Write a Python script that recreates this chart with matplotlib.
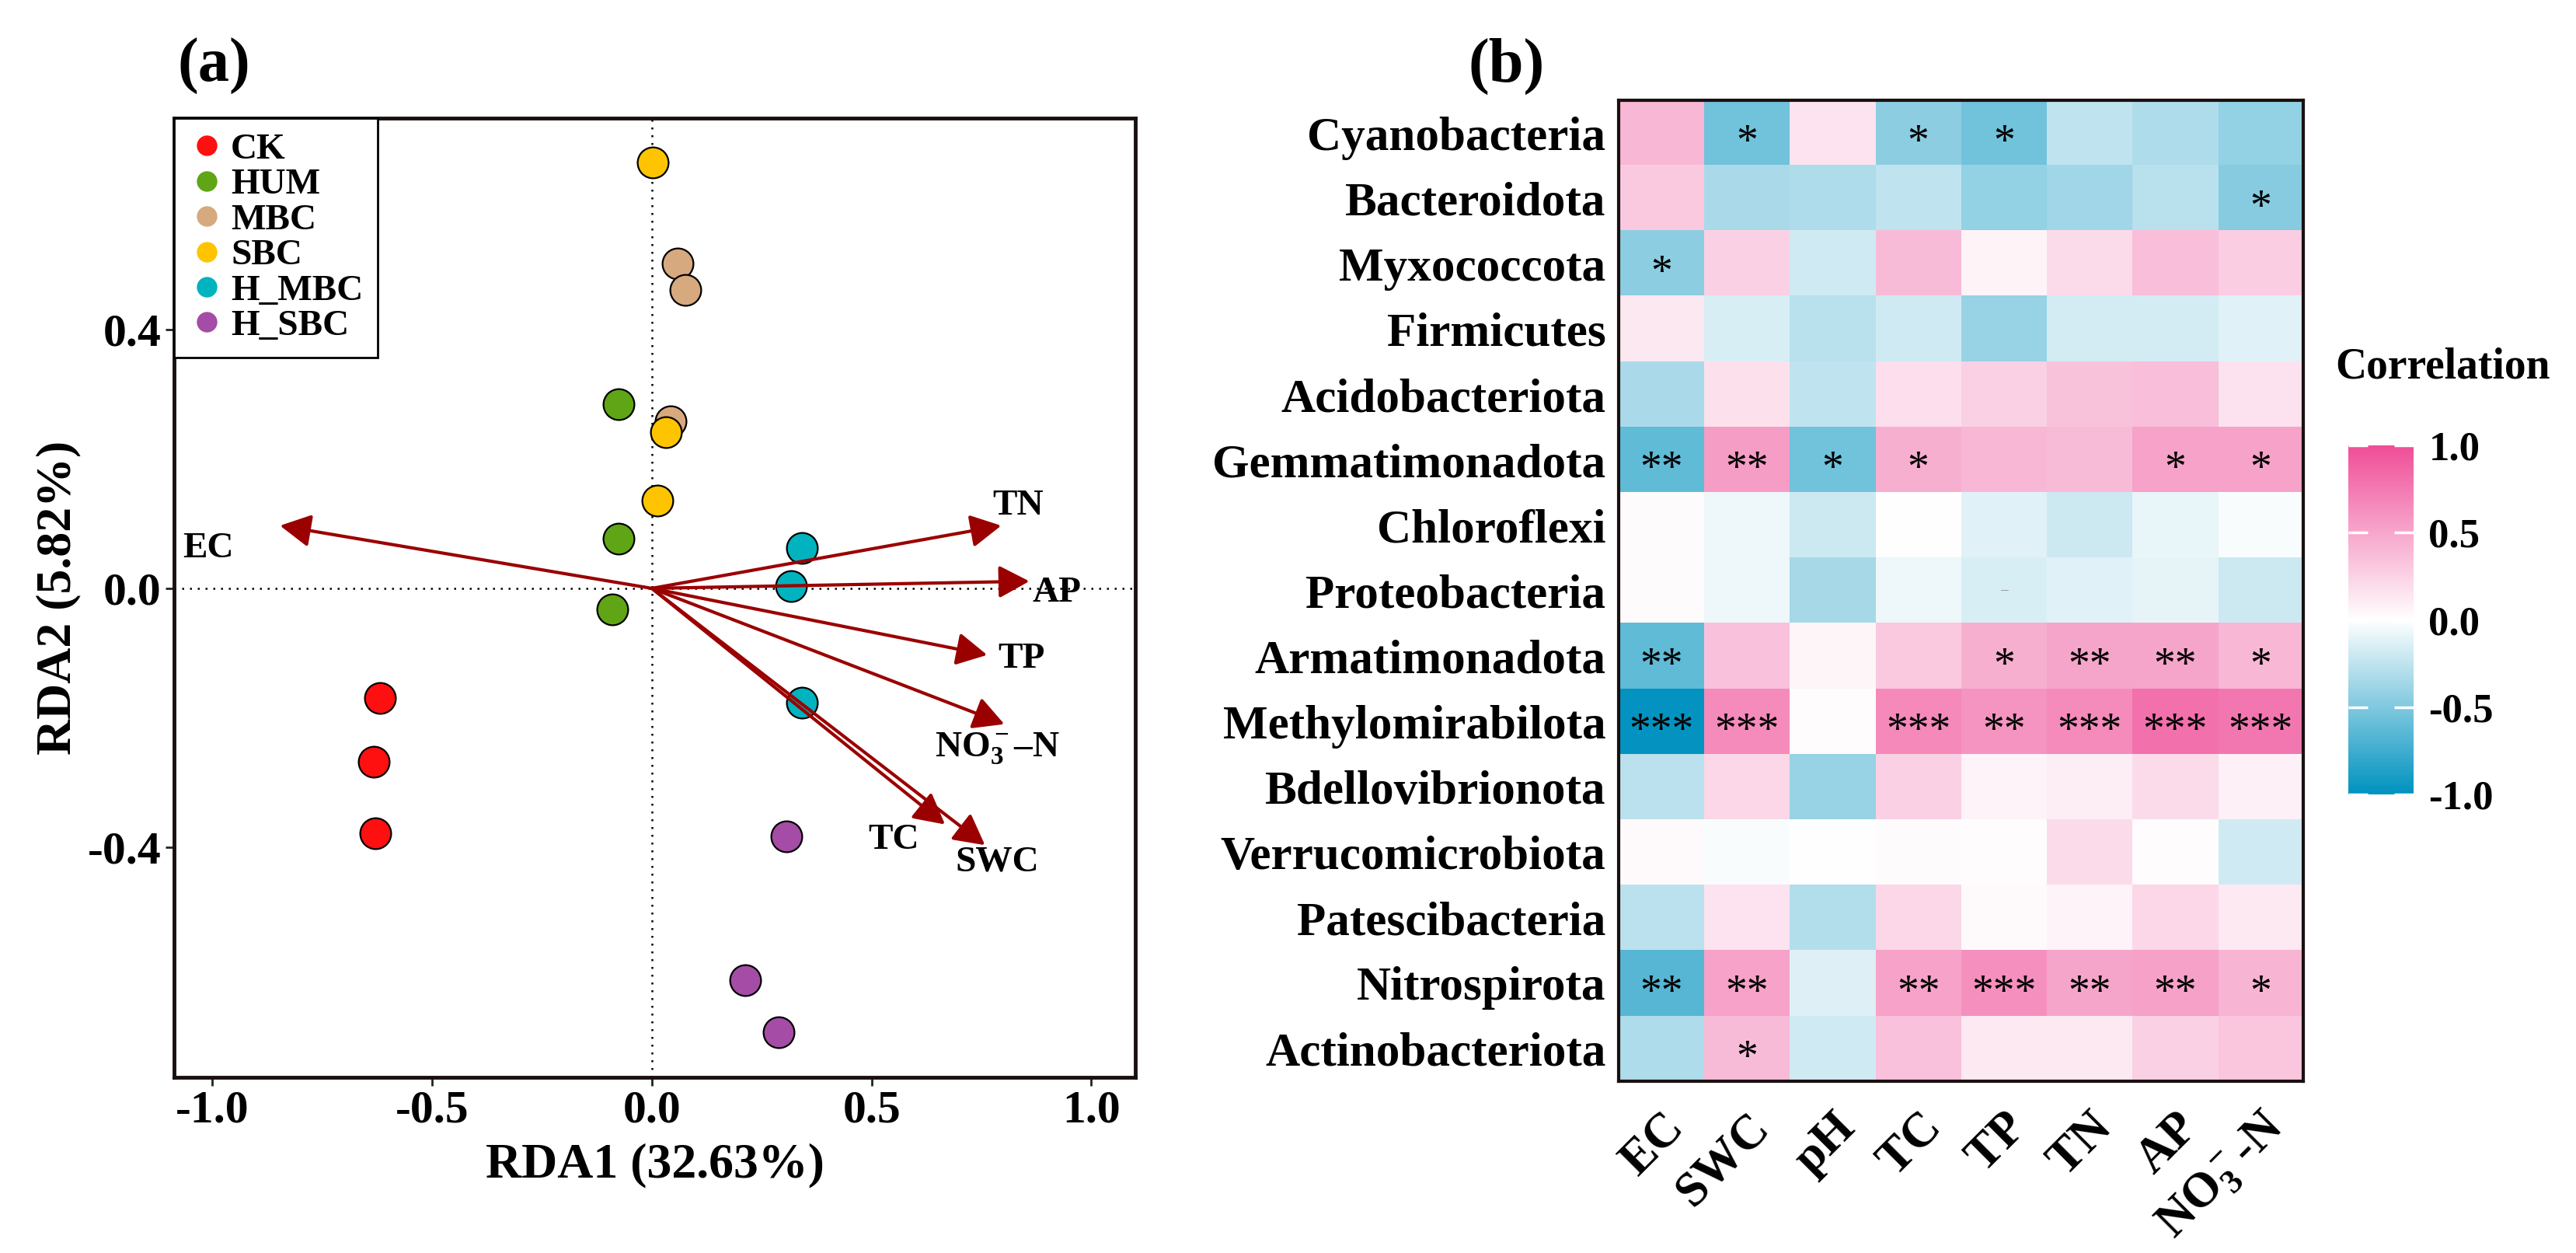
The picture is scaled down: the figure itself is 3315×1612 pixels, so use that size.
import numpy as np
import matplotlib
matplotlib.use('Agg')
import matplotlib.pyplot as plt
from matplotlib.colors import LinearSegmentedColormap
from matplotlib.lines import Line2D

plt.rcParams['font.family'] = ['Liberation Serif', 'DejaVu Serif']
plt.rcParams['font.weight'] = 'bold'
plt.rcParams['axes.labelweight'] = 'bold'
plt.rcParams['mathtext.fontset'] = 'custom'
plt.rcParams['mathtext.rm'] = 'Liberation Serif:bold'
plt.rcParams['mathtext.it'] = 'Liberation Serif:bold:italic'
plt.rcParams['mathtext.bf'] = 'Liberation Serif:bold'

# ---- panel (a): RDA sites ----
groups = ['CK', 'HUM', 'MBC', 'SBC', 'H_MBC', 'H_SBC']
group_colors = ['#FF1010', '#5FA516', '#D6A97E', '#FFC400', '#00B3BE', '#A44CA6']
rda1 = {
    'CK': [-0.618, -0.632, -0.629],
    'HUM': [-0.075, -0.075, -0.090],
    'MBC': [0.058, 0.077, 0.043],
    'SBC': [0.002, 0.032, 0.013],
    'H_MBC': [0.342, 0.317, 0.342],
    'H_SBC': [0.307, 0.213, 0.289],
}
rda2 = {
    'CK': [-0.169, -0.268, -0.379],
    'HUM': [0.285, 0.077, -0.033],
    'MBC': [0.502, 0.461, 0.258],
    'SBC': [0.659, 0.242, 0.136],
    'H_MBC': [0.063, 0.004, -0.177],
    'H_SBC': [-0.383, -0.606, -0.686],
}

# environmental arrows
env_names = ['EC', 'TN', 'AP', 'TP', r'NO$_3^-$–N', 'TC', 'SWC']
env_x = [-0.846, 0.795, 0.859, 0.763, 0.802, 0.667, 0.758]
env_y = [0.097, 0.097, 0.011, -0.103, -0.210, -0.365, -0.397]
label_x = [-1.01, 0.834, 0.922, 0.841, 0.786, 0.551, 0.786]
label_y = [0.061, 0.127, -0.007, -0.110, -0.248, -0.390, -0.424]

# ---- panel (b): correlation heatmap ----
phyla = ['Cyanobacteria', 'Bacteroidota', 'Myxococcota', 'Firmicutes',
         'Acidobacteriota', 'Gemmatimonadota', 'Chloroflexi', 'Proteobacteria',
         'Armatimonadota', 'Methylomirabilota', 'Bdellovibrionota',
         'Verrucomicrobiota', 'Patescibacteria', 'Nitrospirota', 'Actinobacteriota']
factors = ['EC', 'SWC', 'pH', 'TC', 'TP', 'TN', 'AP', r'NO$_3^-$-N']
corr = np.array([
    [0.40, -0.55, 0.15, -0.45, -0.55, -0.25, -0.32, -0.42],
    [0.30, -0.33, -0.32, -0.25, -0.42, -0.37, -0.28, -0.47],
    [-0.45, 0.25, -0.18, 0.38, 0.06, 0.20, 0.36, 0.28],
    [0.13, -0.15, -0.28, -0.18, -0.40, -0.17, -0.17, -0.12],
    [-0.33, 0.17, -0.25, 0.18, 0.25, 0.34, 0.36, 0.16],
    [-0.62, 0.55, -0.55, 0.45, 0.40, 0.38, 0.52, 0.52],
    [0.02, -0.07, -0.20, 0.00, -0.12, -0.20, -0.09, -0.03],
    [0.02, -0.07, -0.35, -0.07, -0.15, -0.12, -0.10, -0.20],
    [-0.62, 0.35, 0.05, 0.30, 0.45, 0.50, 0.50, 0.40],
    [-0.98, 0.65, 0.01, 0.66, 0.60, 0.65, 0.80, 0.76],
    [-0.27, 0.22, -0.40, 0.25, 0.07, 0.10, 0.20, 0.08],
    [0.03, -0.03, 0.00, 0.02, 0.01, 0.20, 0.01, -0.18],
    [-0.27, 0.15, -0.30, 0.22, 0.03, 0.07, 0.22, 0.12],
    [-0.66, 0.52, -0.13, 0.52, 0.62, 0.50, 0.53, 0.42],
    [-0.32, 0.38, -0.18, 0.35, 0.12, 0.12, 0.25, 0.32],
])
stars = [
    ['', '*', '', '*', '*', '', '', ''],
    ['', '', '', '', '', '', '', '*'],
    ['*', '', '', '', '', '', '', ''],
    ['', '', '', '', '', '', '', ''],
    ['', '', '', '', '', '', '', ''],
    ['**', '**', '*', '*', '', '', '*', '*'],
    ['', '', '', '', '', '', '', ''],
    ['', '', '', '', '', '', '', ''],
    ['**', '', '', '', '*', '**', '**', '*'],
    ['***', '***', '', '***', '**', '***', '***', '***'],
    ['', '', '', '', '', '', '', ''],
    ['', '', '', '', '', '', '', ''],
    ['', '', '', '', '', '', '', ''],
    ['**', '**', '', '**', '***', '**', '**', '*'],
    ['', '*', '', '', '', '', '', ''],
]

fig = plt.figure(figsize=(33.16, 16.12), dpi=100)

# ================= panel (a) =================
ax = fig.add_axes([0.06755, 0.1402, 0.37304, 0.76551])
ax.axhline(0, color='black', ls=(0, (1, 3)), lw=1.8, zorder=1)
ax.axvline(0, color='black', ls=(0, (1, 3)), lw=1.8, zorder=1)

for g, c in zip(groups, group_colors):
    ax.scatter(rda1[g], rda2[g], s=820, color=c, edgecolor='black',
               linewidth=1.6, zorder=3)

for name, x, y, lx, ly in zip(env_names, env_x, env_y, label_x, label_y):
    ax.annotate('', xy=(x, y), xytext=(0, 0),
                arrowprops=dict(arrowstyle='-|>,head_length=0.6,head_width=0.32',
                                color='#9B0000', lw=3, mutation_scale=40,
                                shrinkA=0, shrinkB=0), zorder=4)
    ax.text(lx, ly, name, fontsize=34, ha='center', va='center', zorder=5)

ax.set_xlim(-1.087, 1.10)
ax.set_ylim(-0.756, 0.727)
ax.set_xticks([-1.0, -0.5, 0.0, 0.5, 1.0])
ax.set_yticks([-0.4, 0.0, 0.4])
ax.xaxis.set_major_formatter(matplotlib.ticker.FormatStrFormatter('%.1f'))
ax.yaxis.set_major_formatter(matplotlib.ticker.FormatStrFormatter('%.1f'))
ax.tick_params(labelsize=43, length=8, width=2, pad=4, color='#222222')
for sp in ax.spines.values():
    sp.set_linewidth(3.5)
    sp.set_color('#1a1010')
ax.set_xlabel('RDA1 (32.63%)', fontsize=46, fontweight='bold', labelpad=10)
ax.set_ylabel('RDA2 (5.82%)', fontsize=46, fontweight='bold', labelpad=6)

handles = [Line2D([], [], marker='o', ls='none', markersize=19,
                  markerfacecolor=c, markeredgewidth=0) for c in group_colors]
leg = ax.legend(handles, groups, loc='upper left', bbox_to_anchor=(0, 1),
                borderaxespad=0, fancybox=False, edgecolor='black',
                fontsize=34, labelspacing=0.05, handletextpad=0.15,
                handlelength=1.0, borderpad=0.4, framealpha=1)
leg.get_frame().set_linewidth(2)

fig.text(0.069, 0.947, '(a)', fontsize=58, ha='left', va='center')

# ================= panel (b) =================
cmap = LinearSegmentedColormap.from_list('corr', ['#0092BF', '#FFFFFF', '#EF4E98'])
axh = fig.add_axes([0.6282, 0.1371, 0.2657, 0.7829])
im = axh.imshow(corr, cmap=cmap, vmin=-1, vmax=1, aspect='auto',
                interpolation='nearest')
for i in range(len(phyla)):
    for j in range(len(factors)):
        if stars[i][j]:
            axh.text(j, i + 0.33, stars[i][j], ha='center', va='baseline',
                     fontsize=40, fontweight='normal', color='black')
# small grey mark seen in Proteobacteria / TP cell
axh.text(4, 7.0, '–', ha='center', va='center', fontsize=14, color='#999999')

axh.set_xticks(range(len(factors)))
axh.set_xticklabels(factors, rotation=45, ha='right', va='top',
                    rotation_mode='anchor', fontsize=45)
axh.set_yticks(range(len(phyla)))
axh.set_yticklabels(phyla, fontsize=44)
axh.tick_params(length=0, pad=12)
axh.tick_params(axis='x', pad=22)
for sp in axh.spines.values():
    sp.set_linewidth(3)
    sp.set_color('#1a1010')

fig.text(0.5697, 0.947, '(b)', fontsize=58, ha='left', va='center')

cax = fig.add_axes([0.91134, 0.366, 0.02533, 0.27854])
cb = fig.colorbar(im, cax=cax, ticks=[-1.0, -0.5, 0.0, 0.5, 1.0])
cb.outline.set_visible(False)
cb.ax.yaxis.set_major_formatter(matplotlib.ticker.FormatStrFormatter('%.1f'))
cb.ax.tick_params(labelsize=38, length=18, width=2.5, color='white',
                  direction='in', left=True, right=True, pad=14)
fig.text(0.9063, 0.707, 'Correlation', fontsize=40, ha='left', va='center')

fig.savefig('out.png', dpi=100)
